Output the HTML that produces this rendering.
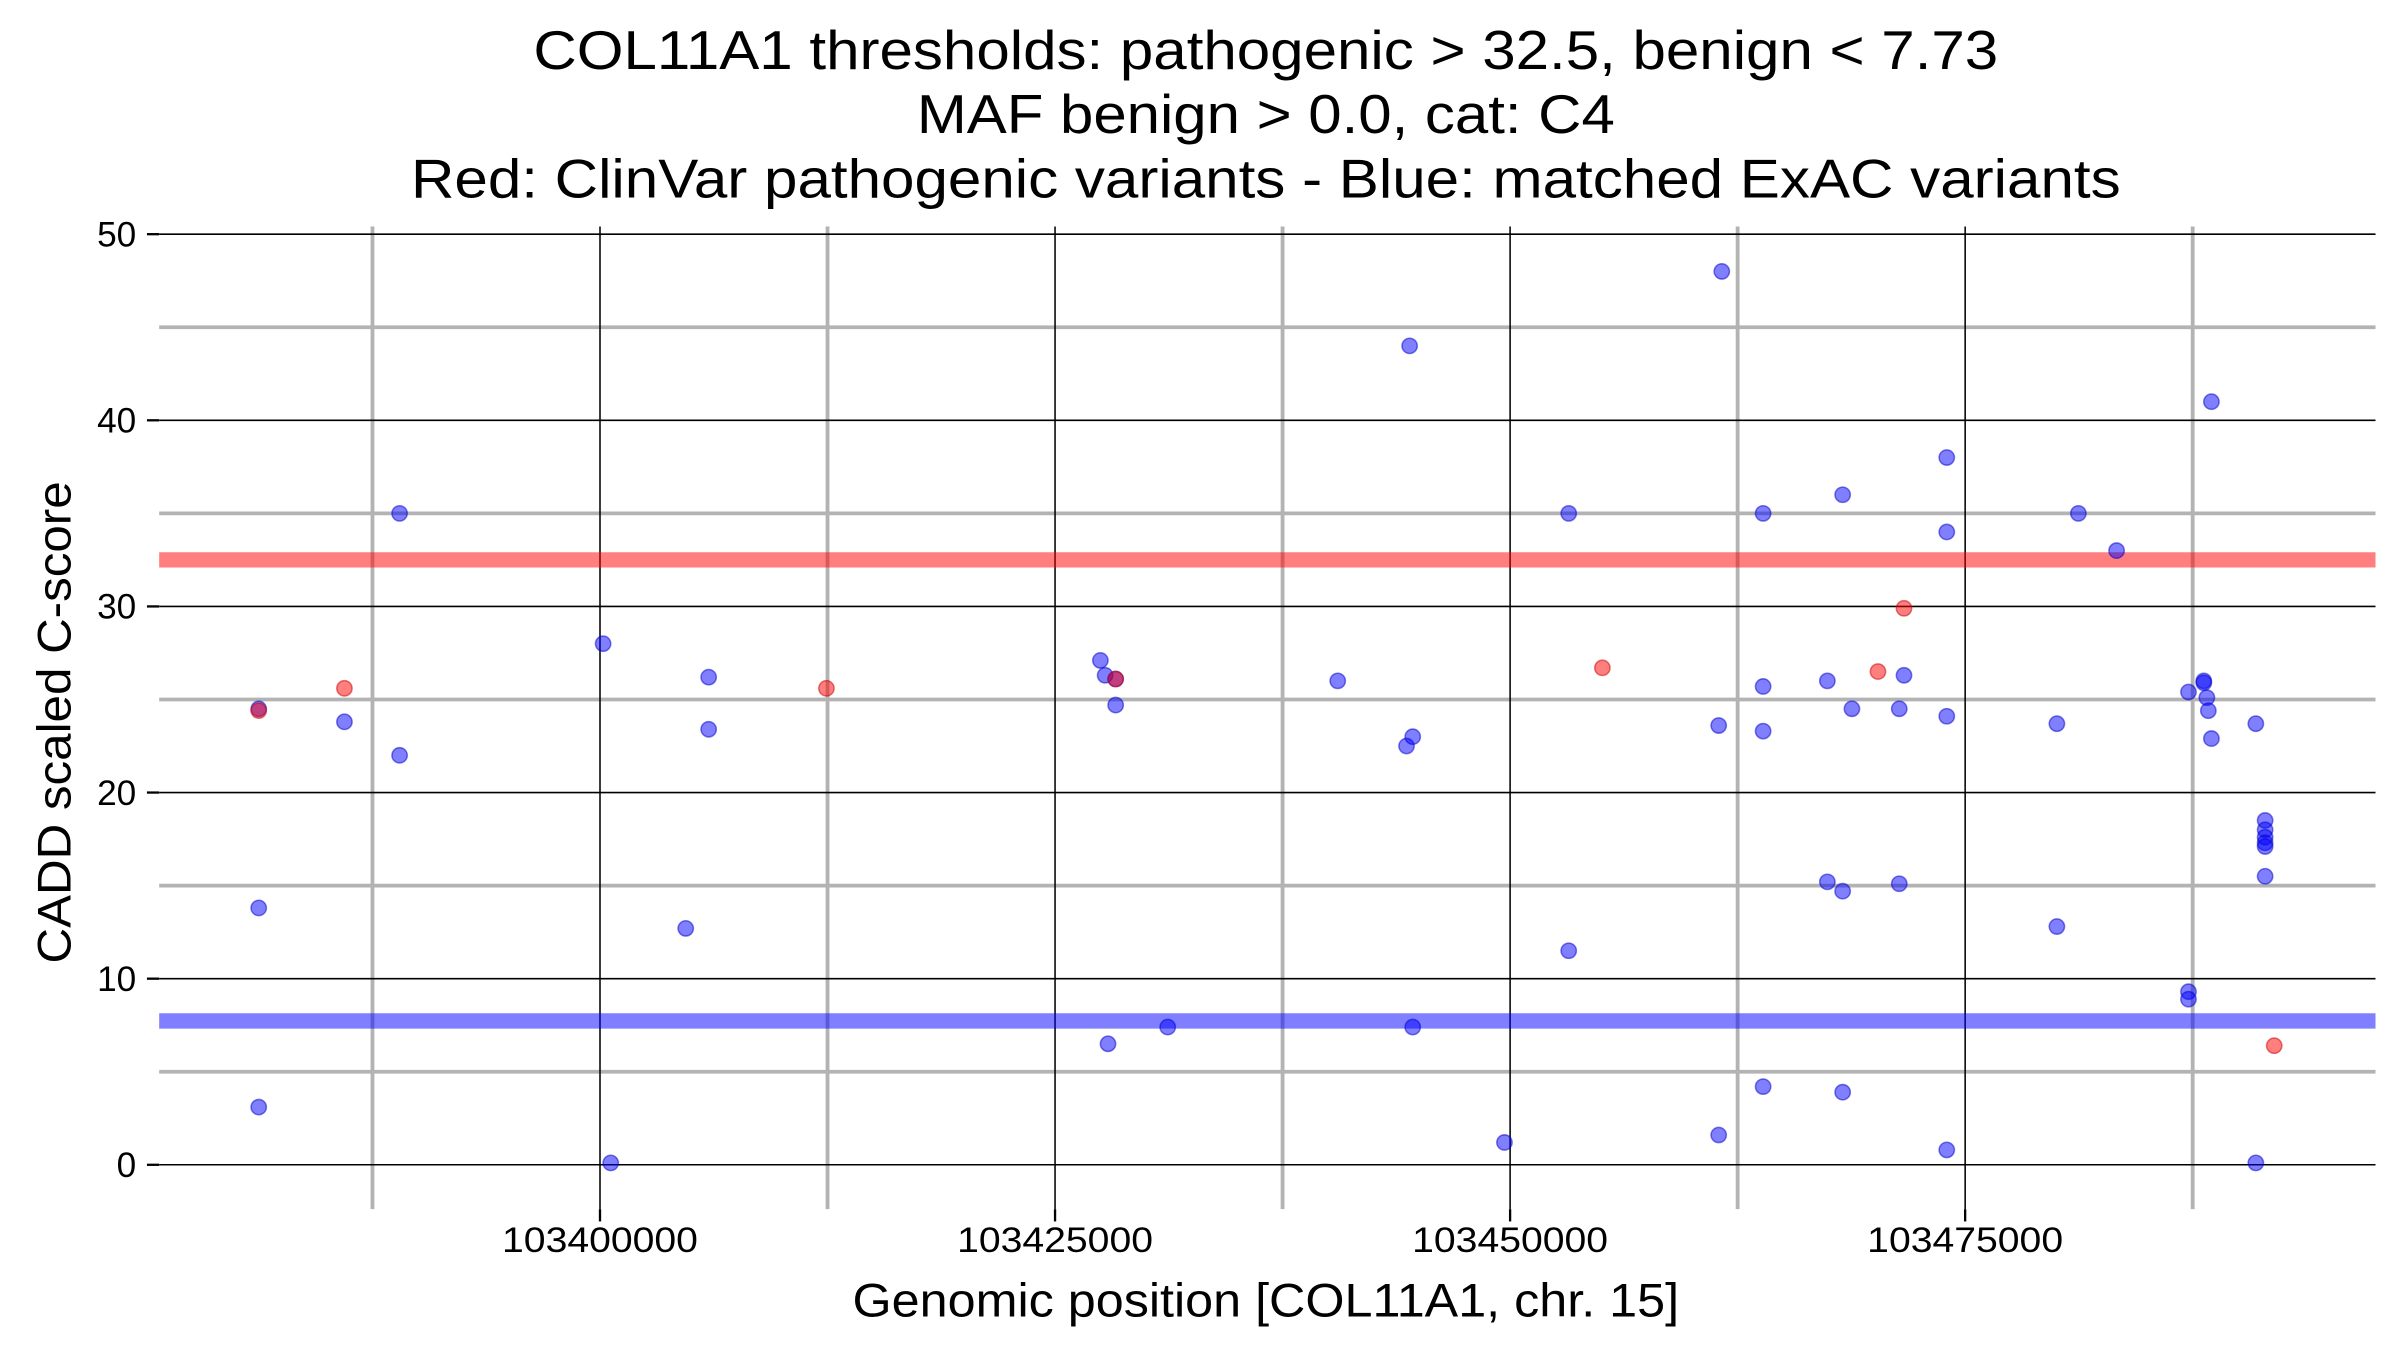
<!DOCTYPE html>
<html><head><meta charset="utf-8"><style>html,body{margin:0;padding:0;background:#fff}svg{display:block}</style></head>
<body>
<svg id="chart" width="2400" height="1350" viewBox="0 0 1568 882" xmlns="http://www.w3.org/2000/svg" font-family="Liberation Sans, Arial, sans-serif">
<g font-size="36" text-anchor="middle" fill="#000">
<text x="827" y="45" textLength="957" lengthAdjust="spacingAndGlyphs">COL11A1 thresholds: pathogenic &gt; 32.5, benign &lt; 7.73</text>
<text x="827" y="87" textLength="456" lengthAdjust="spacingAndGlyphs">MAF benign &gt; 0.0, cat: C4</text>
<text x="827" y="129" textLength="1117" lengthAdjust="spacingAndGlyphs">Red: ClinVar pathogenic variants - Blue: matched ExAC variants</text>
</g>
<g id="grid"></g>
<g id="marks"></g>
<g id="axes"></g>
<text x="827" y="860" font-size="31" text-anchor="middle" textLength="540" lengthAdjust="spacingAndGlyphs">Genomic position [COL11A1, chr. 15]</text>
<text transform="translate(46,472) rotate(-90)" font-size="31" text-anchor="middle" textLength="315" lengthAdjust="spacingAndGlyphs">CADD scaled C-score</text>
</svg>
<script>
const yTicks=[0,10,20,30,40,50];
const yMinor=[5,15,25,35,45];
const xTicks=[103400000,103425000,103450000,103475000];
const xTickLabels=["103400000","103425000","103450000","103475000"];
const xMinor=[103387500,103412500,103437500,103462500,103487500];
const pathThreshold=32.5;
const benignThreshold=7.73;
const bluePos=[103381250,103381250,103381250,103385960,103388990,103388990,103400170,103400590,103404710,103405970,103405970,103427490,103427750,103427910,103428330,103428330,103431190,103440530,103444310,103444480,103444650,103444650,103449690,103453220,103453220,103461460,103461460,103461630,103463900,103463900,103463900,103463900,103467430,103467430,103468270,103468270,103468270,103468780,103471380,103471380,103471640,103473990,103473990,103473990,103473990,103480040,103480040,103481220,103483320,103487270,103487270,103487270,103488110,103488110,103488280,103488360,103488530,103488530,103490970,103490970,103491480,103491480,103491480,103491480,103491480,103491480];
const blueScore=[24.5,13.8,3.1,23.8,35,22,28,0.1,12.7,26.2,23.4,27.1,26.3,6.5,24.7,26.1,7.4,26,22.5,44,23,7.4,1.2,35,11.5,23.6,1.6,48,35,25.7,23.3,4.2,26,15.2,36,14.7,3.9,24.5,24.5,15.1,26.3,38,34,24.1,0.8,23.7,12.8,35,33,25.4,9.3,8.9,26,25.9,25.1,24.4,41,22.9,23.7,0.1,18.5,18,17.6,17.3,17.1,15.5];
const redPos=[103381250,103385960,103412440,103428330,103455070,103470210,103471640,103491980];
const redScore=[24.4,25.6,25.6,26.1,26.7,26.5,29.9,6.4];

const NS="http://www.w3.org/2000/svg";
const L=104,R=1552,T=148,B=790;
function xs(p){return 392+(p-103400000)*297.3/25000;}
function ys(v){return 761-v*(608/50);}
function mk(tag,attrs,parent){const e=document.createElementNS(NS,tag);for(const k in attrs)e.setAttribute(k,attrs[k]);parent.appendChild(e);return e;}
const grid=document.getElementById('grid'),marks=document.getElementById('marks'),axes=document.getElementById('axes');
yMinor.forEach(v=>{const e=mk('line',{x1:L,x2:R,y1:ys(v),y2:ys(v),stroke:'#b3b3b3','stroke-width':2.5},grid);

});
xMinor.forEach(p=>{const e=mk('line',{x1:xs(p),x2:xs(p),y1:T,y2:B,stroke:'#b3b3b3','stroke-width':2.5},grid);

});
yTicks.forEach(v=>{const e=mk('line',{x1:L,x2:R,y1:ys(v),y2:ys(v),stroke:'#000','stroke-width':1},grid);

});
xTicks.forEach(p=>{const e=mk('line',{x1:xs(p),x2:xs(p),y1:T,y2:B,stroke:'#000','stroke-width':1},grid);

});
const tp=mk('line',{x1:L,x2:R,y1:ys(pathThreshold),y2:ys(pathThreshold),stroke:'rgba(255,0,0,0.5)','stroke-width':10},grid);


const tb=mk('line',{x1:L,x2:R,y1:ys(benignThreshold),y2:ys(benignThreshold),stroke:'rgba(0,0,255,0.5)','stroke-width':10},grid);


bluePos.forEach((p,i)=>{const c=mk('circle',{cx:xs(p),cy:ys(blueScore[i]),r:5,fill:'rgba(0,0,255,0.5)',stroke:'rgba(0,0,200,0.5)','stroke-width':1},marks);

});
redPos.forEach((p,i)=>{const c=mk('circle',{cx:xs(p),cy:ys(redScore[i]),r:5,fill:'rgba(255,0,0,0.5)',stroke:'rgba(200,0,0,0.5)','stroke-width':1},marks);

});
yTicks.forEach(v=>{mk('line',{x1:96,x2:104,y1:ys(v),y2:ys(v),stroke:'#000','stroke-width':1.5},axes);
const t=mk('text',{x:89,y:ys(v)+8,'font-size':23,'text-anchor':'end'},axes);t.textContent=String(v);

});
xTicks.forEach((p,i)=>{mk('line',{x1:xs(p),x2:xs(p),y1:790,y2:798,stroke:'#000','stroke-width':1.5},axes);
const t=mk('text',{x:xs(p),y:818,'font-size':23,'text-anchor':'middle',textLength:128,lengthAdjust:'spacingAndGlyphs'},axes);t.textContent=xTickLabels[i];

});
</script>
</body></html>
